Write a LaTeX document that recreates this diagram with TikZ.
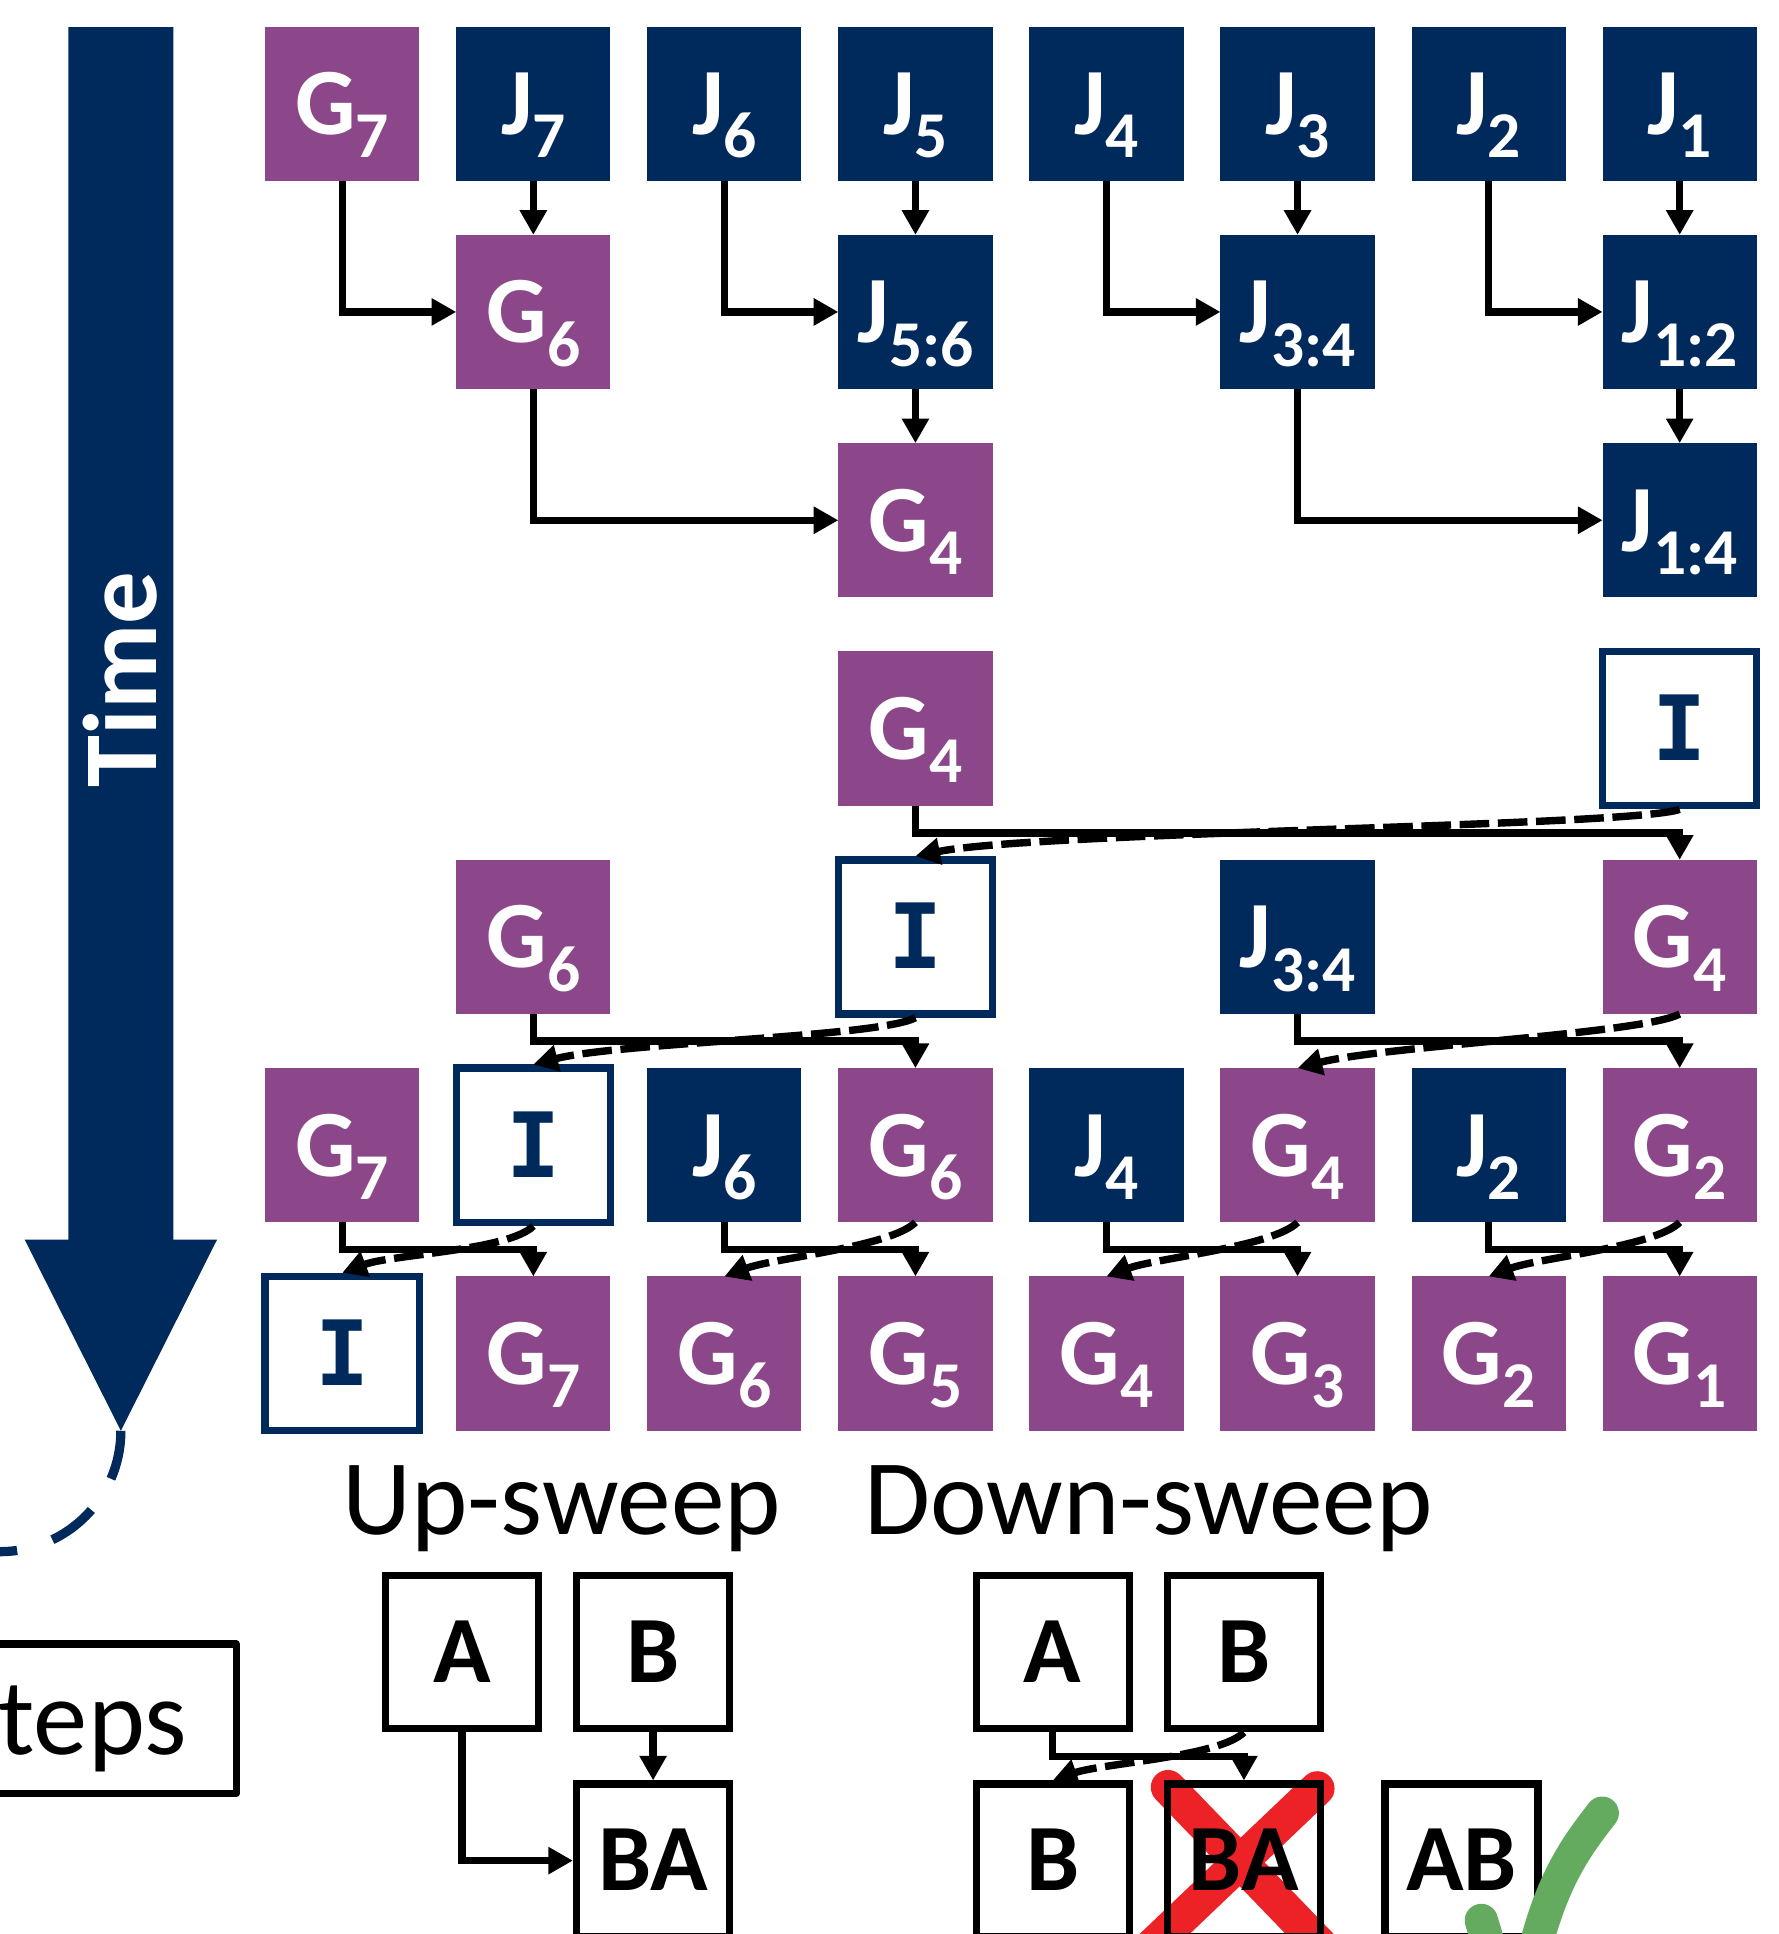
\documentclass[tikz,border=0pt]{standalone}
\usepackage{fontspec}
\setmainfont{Carlito}
\newfontfamily\idfont{DejaVu Sans Mono}
\usetikzlibrary{arrows.meta}

\definecolor{navy}{RGB}{0,41,92}
\definecolor{gpurple}{RGB}{139,71,137}
\definecolor{xred}{RGB}{236,34,39}
\definecolor{tickgreen}{RGB}{100,170,95}

% letter with a large lowered index that does not change the box height
\newcommand{\lab}[2]{#1\raisebox{-19bp}[0pt][0pt]{\fontsize{53bp}{53bp}\selectfont #2}}

\tikzset{
  cell/.style={rectangle, minimum size=125bp, inner sep=0pt, outer sep=0pt,
    text height=50bp, text depth=0bp,
    font=\fontsize{77bp}{77bp}\selectfont\bfseries},
  gcell/.style={cell, fill=gpurple, text=white},
  jcell/.style={cell, fill=navy, text=white},
  icell/.style={cell, draw=navy, line width=6bp, fill=white, text=navy, outer sep=3bp,
    text height=52bp, font=\idfont\fontsize{73bp}{73bp}\selectfont\bfseries},
  wcell/.style={cell, minimum size=124bp, draw=black, line width=6bp, outer sep=3bp,
    text=black, text height=49bp},
  link/.style={draw=black, line width=6bp, -{Triangle[length=20bp,width=21bp]}},
  dlink/.style={link, dash pattern=on 24bp off 7bp},
  caption/.style={anchor=base, inner sep=0pt, font=\fontsize{87bp}{87bp}\selectfont},
}

\begin{document}
\begin{tikzpicture}[x=1bp,y=1bp]
\useasboundingbox (0,0) rectangle (1442,-1568);
\clip (0,0) rectangle (1442,-1568);

% time axis
\fill[navy] (55.5,-22) -- (140.5,-22) -- (140.5,-1005) -- (176,-1005)
  -- (98,-1160) -- (20,-1005) -- (55.5,-1005) -- cycle;
\node[rotate=90, text=white, inner sep=0pt, text height=54bp, text depth=0bp,
  font=\fontsize{85bp}{85bp}\selectfont\bfseries] (timelbl) at (100,-551) {Time};
\coordinate (timetip) at (98,-1160);
\draw[navy, line width=7.5bp, dash pattern=on 40bp off 30bp]
  (timetip) arc[start angle=0, end angle=-115, radius=98bp];

% steps box
\node[draw=black, line width=6bp, line join=round, anchor=east,
  minimum height=121bp, text width=200bp, inner xsep=40bp, align=right,
  text height=58bp, text depth=0bp,
  font=\fontsize{88bp}{88bp}\selectfont] (steps) at (194.5,-1393.5) {teps};

% ---------- up-sweep ----------
\node[gcell] (g7a) at (277.5,-84) {\lab{G}{7}};
\node[jcell] (j7)  at (432.4,-84) {\lab{J}{7}};
\node[jcell] (j6)  at (587.3,-84) {\lab{J}{6}};
\node[jcell] (j5)  at (742.2,-84) {\lab{J}{5}};
\node[jcell] (j4)  at (897.1,-84) {\lab{J}{4}};
\node[jcell] (j3)  at (1052,-84) {\lab{J}{3}};
\node[jcell] (j2)  at (1206.9,-84) {\lab{J}{2}};
\node[jcell] (j1)  at (1361.8,-84) {\lab{J}{1}};

\node[gcell] (g6a) at (432.4,-252.9) {\lab{G}{6}};
\node[jcell] (j56) at (742.2,-252.9) {\lab{J}{5:6}};
\node[jcell] (j34) at (1052,-252.9) {\lab{J}{3:4}};
\node[jcell] (j12) at (1361.8,-252.9) {\lab{J}{1:2}};

\node[gcell] (g4a) at (742.2,-421.8) {\lab{G}{4}};
\node[jcell] (j14) at (1361.8,-421.8) {\lab{J}{1:4}};

\draw[link] (g7a.south) |- (g6a.west);
\draw[link] (j7.south) -- (g6a.north);
\draw[link] (j6.south) |- (j56.west);
\draw[link] (j5.south) -- (j56.north);
\draw[link] (j4.south) |- (j34.west);
\draw[link] (j3.south) -- (j34.north);
\draw[link] (j2.south) |- (j12.west);
\draw[link] (j1.south) -- (j12.north);
\draw[link] (g6a.south) |- (g4a.west);
\draw[link] (j56.south) -- (g4a.north);
\draw[link] (j34.south) |- (j14.west);
\draw[link] (j12.south) -- (j14.north);

% ---------- down-sweep ----------
\node[gcell] (g4b) at (742.2,-590.7) {\lab{G}{4}};
\node[icell] (ia)  at (1361.8,-590.7) {I};

\node[gcell] (g6b)  at (432.4,-759.6) {\lab{G}{6}};
\node[icell] (ib)   at (742.2,-759.6) {I};
\node[jcell] (j34b) at (1052,-759.6) {\lab{J}{3:4}};
\node[gcell] (g4c)  at (1361.8,-759.6) {\lab{G}{4}};

\node[gcell] (g7b) at (277.5,-928.5) {\lab{G}{7}};
\node[icell] (ic)  at (432.4,-928.5) {I};
\node[jcell] (j6b) at (587.3,-928.5) {\lab{J}{6}};
\node[gcell] (g6c) at (742.2,-928.5) {\lab{G}{6}};
\node[jcell] (j4b) at (897.1,-928.5) {\lab{J}{4}};
\node[gcell] (g4d) at (1052,-928.5) {\lab{G}{4}};
\node[jcell] (j2b) at (1206.9,-928.5) {\lab{J}{2}};
\node[gcell] (g2a) at (1361.8,-928.5) {\lab{G}{2}};

\node[icell] (id)  at (277.5,-1097.4) {I};
\node[gcell] (g7c) at (432.4,-1097.4) {\lab{G}{7}};
\node[gcell] (g6d) at (587.3,-1097.4) {\lab{G}{6}};
\node[gcell] (g5)  at (742.2,-1097.4) {\lab{G}{5}};
\node[gcell] (g4e) at (897.1,-1097.4) {\lab{G}{4}};
\node[gcell] (g3)  at (1052,-1097.4) {\lab{G}{3}};
\node[gcell] (g2b) at (1206.9,-1097.4) {\lab{G}{2}};
\node[gcell] (g1)  at (1361.8,-1097.4) {\lab{G}{1}};

% left value goes right (solid), right value goes left (dashed)
\draw[link] (g4b.south) -- ++(0,-22) -| (g4c.north);
\draw[dlink] (ia.south) .. controls +(-40,-14) and +(100,20) .. (ib.north);

\draw[link] (g6b.south) -- ++(0,-22) -| (g6c.north);
\draw[dlink] (ib.south) .. controls +(-30,-16) and +(70,18) .. (ic.north);
\draw[link] (j34b.south) -- ++(0,-22) -| (g2a.north);
\draw[dlink] (g4c.south) .. controls +(-30,-16) and +(70,18) .. (g4d.north);

\draw[link] (g7b.south) -- ++(0,-22) -| (g7c.north);
\draw[dlink] (ic.south) .. controls +(-20,-20) and +(40,15) .. (id.north);
\draw[link] (j6b.south) -- ++(0,-22) -| (g5.north);
\draw[dlink] (g6c.south) .. controls +(-20,-20) and +(40,15) .. (g6d.north);
\draw[link] (j4b.south) -- ++(0,-22) -| (g3.north);
\draw[dlink] (g4d.south) .. controls +(-20,-20) and +(40,15) .. (g4e.north);
\draw[link] (j2b.south) -- ++(0,-22) -| (g1.north);
\draw[dlink] (g2a.south) .. controls +(-20,-20) and +(40,15) .. (g2b.north);

% ---------- legend ----------
\node[caption] (upcap) at (455.5,-1244) {Up-sweep};
\node[caption] (dncap) at (931,-1244) {Down-sweep};

% cross-out mark under the wrong result
\draw[xred, line width=28bp, line cap=round] (947,-1449) -- (1085,-1592);
\draw[xred, line width=28bp, line cap=round] (1068,-1450) -- (919,-1592);

\node[wcell] (upA)  at (374.5,-1339.5) {A};
\node[wcell] (upB)  at (529.5,-1339.5) {B};
\node[wcell] (upBA) at (529.5,-1508.5) {BA};
\draw[link] (upA.south) |- (upBA.west);
\draw[link] (upB.south) -- (upBA.north);

\node[wcell] (dnA)  at (853.5,-1339.5) {A};
\node[wcell] (dnB)  at (1008.5,-1339.5) {B};
\node[wcell] (dnB2) at (853.5,-1508.5) {B};
\node[wcell] (dnBA) at (1008.5,-1508.5) {BA};
\node[wcell] (dnAB) at (1185,-1508.5) {AB};
\draw[link] (dnA.south) -- ++(0,-19.5) -| (dnBA.north);
\draw[dlink] (dnB.south) .. controls +(-20,-20) and +(40,14) .. (dnB2.north);

% check mark beside the right result
\draw[tickgreen, line width=27bp, line cap=round]
  (1299,-1470) .. controls (1278,-1497) and (1255,-1527) .. (1240,-1600);
\draw[tickgreen, line width=27bp, line cap=round] (1201,-1557) -- (1214,-1600);
\end{tikzpicture}
\end{document}
